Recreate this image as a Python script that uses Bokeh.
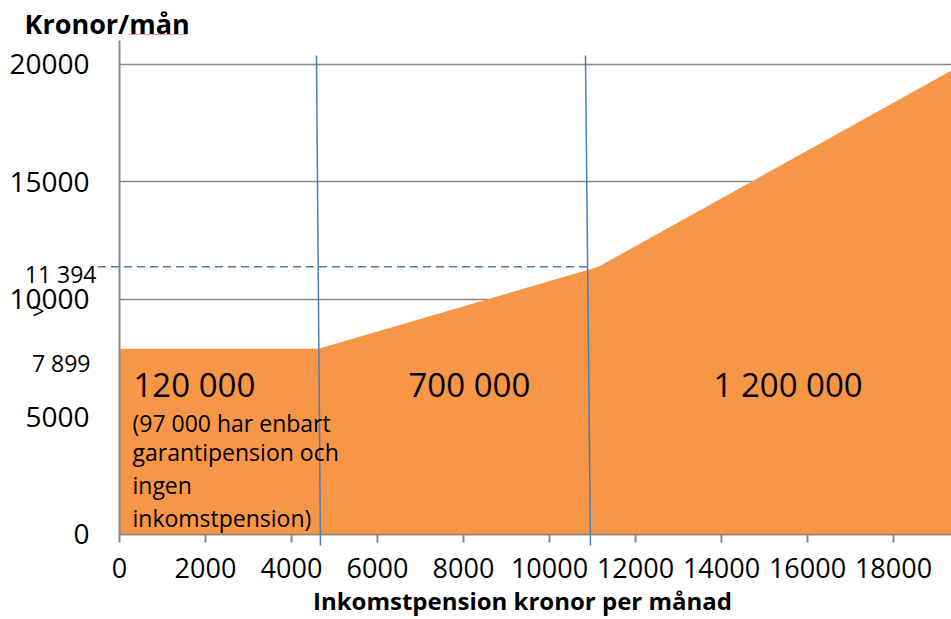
from bokeh.plotting import figure
from bokeh.models import Range1d, Label, FixedTicker, NumeralTickFormatter
from bokeh.embed import file_html
from bokeh.resources import INLINE

# ---- data ----
income_x = [0, 4630, 11140, 19350]          # inkomstpension kr/mån
pension_y = [7899, 7899, 11394, 19750]      # total pension kr/mån
x_ticks = [0, 2000, 4000, 6000, 8000, 10000, 12000, 14000, 16000, 18000]
y_ticks = [0, 5000, 10000, 15000, 20000]
boundary_top_x = [4581, 10837]
boundary_bottom_x = [4674, 10953]
ref_level = 11394
group_labels = ["120 000", "700 000", "1 200 000"]
note_lines = ["(97 000 har enbart", "garantipension och", "ingen", "inkomstpension)"]
side_values = ["11 394", "7 899"]

FONT = "Open Sans"
GRAY = "#898989"
ORANGE = "#F79646"
BLUE = "#4A7EBB"

X_MAX = 19349
Y_TOP = 21021

p = figure(width=951, height=619,
           x_range=Range1d(-2767, X_MAX), y_range=Range1d(-3617, 22722),
           output_backend="svg", toolbar_location=None,
           min_border_left=0, min_border_right=0,
           min_border_top=0, min_border_bottom=0)
p.outline_line_color = None
p.background_fill_color = "white"
p.border_fill_color = "white"

# grid (horizontal only, starting at the y axis)
p.xgrid.visible = False
try:
    p.ygrid.cross_bounds = (0, X_MAX)
    p.ygrid.ticker = FixedTicker(ticks=y_ticks)
    p.ygrid.grid_line_color = GRAY
    p.ygrid.grid_line_width = 1.5
except Exception:
    p.ygrid.visible = False
    p.segment(x0=[0] * len(y_ticks), y0=y_ticks, x1=[X_MAX] * len(y_ticks), y1=y_ticks,
              line_color=GRAY, line_width=1.5, level="underlay")

# area
p.varea(x=income_x, y1=0, y2=pension_y, fill_color=ORANGE, fill_alpha=1.0)

# boundary lines
p.segment(x0=boundary_top_x, y0=[20383, 20383], x1=boundary_bottom_x, y1=[-468, -468],
          line_color=BLUE, line_width=1.5)
p.segment(x0=[-500], y0=[ref_level], x1=[boundary_bottom_x[1]], y1=[ref_level],
          line_color=BLUE, line_width=1.5, line_dash="8 5")

# x axis
xa = p.xaxis[0]
xa.fixed_location = 0
xa.bounds = (0, X_MAX)
xa.ticker = FixedTicker(ticks=x_ticks)
xa.formatter = NumeralTickFormatter(format="0")
xa.axis_line_color = GRAY
xa.axis_line_width = 1.5
xa.major_tick_line_color = GRAY
xa.major_tick_line_width = 2
xa.major_tick_in = 0
xa.major_tick_out = 8
xa.minor_tick_line_color = None
xa.major_label_text_font = FONT
xa.major_label_text_font_size = "27px"
xa.major_label_text_color = "black"
xa.major_label_standoff = 16

# y axis
ya = p.yaxis[0]
ya.fixed_location = 0
ya.bounds = (0, Y_TOP)
ya.ticker = FixedTicker(ticks=y_ticks)
ya.formatter = NumeralTickFormatter(format="0")
ya.axis_line_color = GRAY
ya.axis_line_width = 2
ya.major_tick_in = 0
ya.major_tick_out = 0
ya.minor_tick_line_color = None
ya.major_label_text_font = FONT
ya.major_label_text_font_size = "28px"
ya.major_label_text_color = "black"
ya.major_label_standoff = 30

def lab(x, y, text, size, align="left", style="normal", baseline="alphabetic"):
    p.add_layout(Label(x=x, y=y, text=text, text_font=FONT, text_font_size=size,
                       text_align=align, text_baseline=baseline,
                       text_font_style=style, text_color="black"))

# group labels
for t, x in zip(group_labels, [326, 6721, 13814]):
    lab(x, 6375, t, "33px")

# note lines
for t, y in zip(note_lines, [4765, 3489, 2085, 723]):
    lab(302, y, t, "23px")

# side values
lab(-535, 11105, side_values[0], "23px", align="right")
lab(-674, 7318, side_values[1], "23px", align="right")
lab(-1884, 9531, ">", "21px", align="center", baseline="middle")

# titles
lab(-2209, 21743, "Kronor/mån", "27px", style="bold")
p.segment(x0=[209], y0=[21275], x1=[1581], y1=[21275], line_color="#F4A0A0", line_width=1)
lab(9372, -2809, "Inkomstpension kronor per månad", "24px", align="center", style="bold")

open("out.html", "w").write(file_html(p, INLINE))
